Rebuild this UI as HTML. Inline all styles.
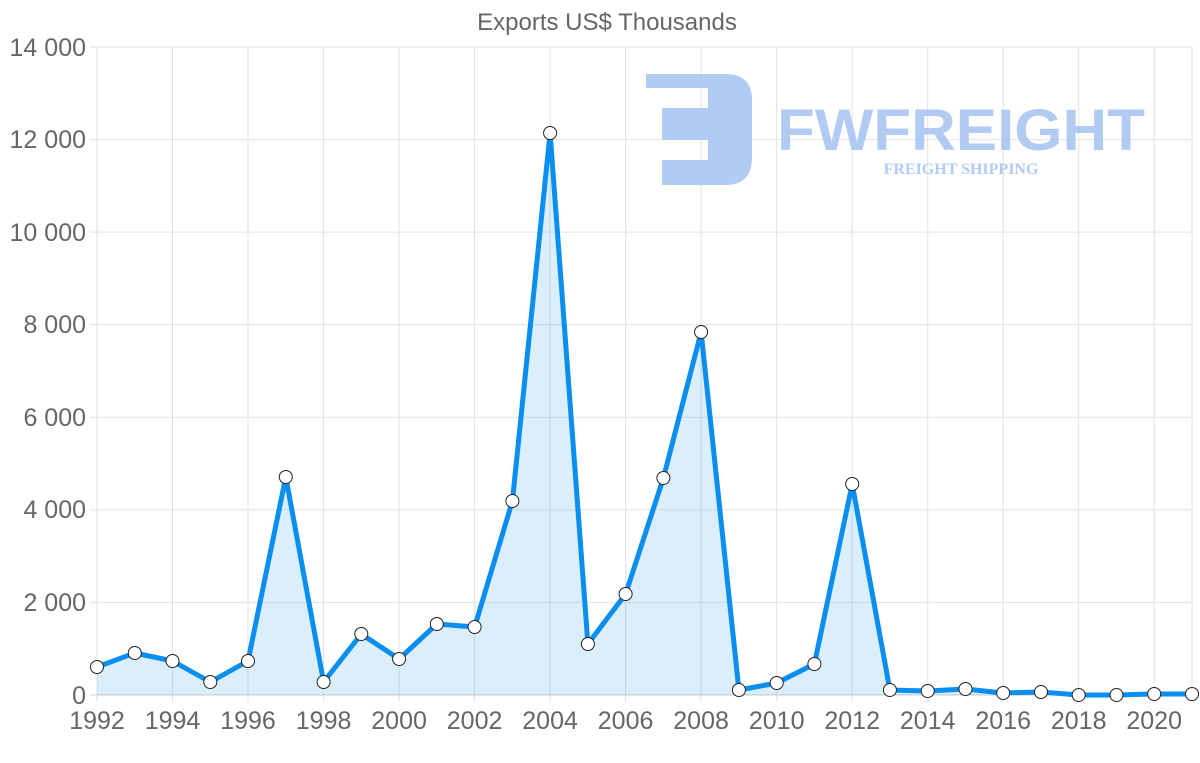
<!DOCTYPE html>
<html><head><meta charset="utf-8"><style>
html,body{margin:0;padding:0;background:#fff;}
svg{display:block;font-family:"Liberation Sans",sans-serif;}
</style></head><body>
<svg width="1200" height="763" viewBox="0 0 1200 763" xmlns="http://www.w3.org/2000/svg">
<text x="607" y="30" text-anchor="middle" font-size="24" fill="#666">Exports US$ Thousands</text>
<g stroke="#e2e2e2" stroke-width="1">
<line x1="90" y1="47" x2="1192" y2="47"/>
<line x1="90" y1="139.6" x2="1192" y2="139.6"/>
<line x1="90" y1="232.1" x2="1192" y2="232.1"/>
<line x1="90" y1="324.7" x2="1192" y2="324.7"/>
<line x1="90" y1="417.3" x2="1192" y2="417.3"/>
<line x1="90" y1="509.9" x2="1192" y2="509.9"/>
<line x1="90" y1="602.4" x2="1192" y2="602.4"/>
<line x1="97" y1="47" x2="97" y2="702"/>
<line x1="172.5" y1="47" x2="172.5" y2="702"/>
<line x1="248" y1="47" x2="248" y2="702"/>
<line x1="323.6" y1="47" x2="323.6" y2="702"/>
<line x1="399.1" y1="47" x2="399.1" y2="702"/>
<line x1="474.6" y1="47" x2="474.6" y2="702"/>
<line x1="550.1" y1="47" x2="550.1" y2="702"/>
<line x1="625.6" y1="47" x2="625.6" y2="702"/>
<line x1="701.1" y1="47" x2="701.1" y2="702"/>
<line x1="776.7" y1="47" x2="776.7" y2="702"/>
<line x1="852.2" y1="47" x2="852.2" y2="702"/>
<line x1="927.7" y1="47" x2="927.7" y2="702"/>
<line x1="1003.2" y1="47" x2="1003.2" y2="702"/>
<line x1="1078.7" y1="47" x2="1078.7" y2="702"/>
<line x1="1154.2" y1="47" x2="1154.2" y2="702"/>
<line x1="1192" y1="47" x2="1192" y2="695"/>
</g>
<line x1="90" y1="695" x2="1192" y2="695" stroke="#ccc"/>
<g fill="#666" font-size="25" text-anchor="end">
<text x="86" y="56">14 000</text><text x="86" y="148">12 000</text><text x="86" y="241">10 000</text>
<text x="86" y="333">8 000</text><text x="86" y="426">6 000</text><text x="86" y="518">4 000</text>
<text x="86" y="611">2 000</text><text x="86" y="704">0</text>
</g>
<g fill="#666" font-size="25" text-anchor="middle">
<text x="97" y="729">1992</text><text x="172.5" y="729">1994</text><text x="248" y="729">1996</text>
<text x="323.6" y="729">1998</text><text x="399.1" y="729">2000</text><text x="474.6" y="729">2002</text>
<text x="550.1" y="729">2004</text><text x="625.6" y="729">2006</text><text x="701.1" y="729">2008</text>
<text x="776.7" y="729">2010</text><text x="852.2" y="729">2012</text><text x="927.7" y="729">2014</text>
<text x="1003.2" y="729">2016</text><text x="1078.7" y="729">2018</text><text x="1154.2" y="729">2020</text>
</g>
<!-- logo -->
<g fill="#a9c6f2" opacity="0.9">
<path d="M646 74 H725 Q752 74 752 100 V158 Q752 185 725 185 H662 V160 H708 V140 H662 V108 H708 V88 H646 Z"/>
<text x="961" y="150" text-anchor="middle" font-size="58" font-weight="bold" textLength="368" lengthAdjust="spacingAndGlyphs">FWFREIGHT</text>
<text x="961" y="174" text-anchor="middle" font-size="16" font-weight="bold" font-family="Liberation Serif,serif">FREIGHT SHIPPING</text>
</g>
<polygon fill="rgba(54,162,235,0.18)" points="97,695 97,667 134.8,653 172.5,661 210.3,682 248,661 285.8,477 323.6,682 361.3,634 399.1,659 436.8,624 474.6,627 512.4,501 550.1,133 587.9,644 625.6,594 663.4,478 701.1,332 738.9,690 776.7,683 814.4,664 852.2,484 889.9,690 927.7,691 965.5,689 1003.2,693 1041,692 1078.7,695 1116.5,695 1154.2,694 1192,694 1192,695"/>
<polyline fill="none" stroke="#0a8ff0" stroke-width="5" stroke-linejoin="round" points="97,667 134.8,653 172.5,661 210.3,682 248,661 285.8,477 323.6,682 361.3,634 399.1,659 436.8,624 474.6,627 512.4,501 550.1,133 587.9,644 625.6,594 663.4,478 701.1,332 738.9,690 776.7,683 814.4,664 852.2,484 889.9,690 927.7,691 965.5,689 1003.2,693 1041,692 1078.7,695 1116.5,695 1154.2,694 1192,694"/>
<g fill="#fff" stroke="#222" stroke-width="1">
<circle cx="97" cy="667" r="6.5"/><circle cx="134.8" cy="653" r="6.5"/><circle cx="172.5" cy="661" r="6.5"/><circle cx="210.3" cy="682" r="6.5"/><circle cx="248" cy="661" r="6.5"/><circle cx="285.8" cy="477" r="6.5"/><circle cx="323.6" cy="682" r="6.5"/><circle cx="361.3" cy="634" r="6.5"/><circle cx="399.1" cy="659" r="6.5"/><circle cx="436.8" cy="624" r="6.5"/><circle cx="474.6" cy="627" r="6.5"/><circle cx="512.4" cy="501" r="6.5"/><circle cx="550.1" cy="133" r="6.5"/><circle cx="587.9" cy="644" r="6.5"/><circle cx="625.6" cy="594" r="6.5"/><circle cx="663.4" cy="478" r="6.5"/><circle cx="701.1" cy="332" r="6.5"/><circle cx="738.9" cy="690" r="6.5"/><circle cx="776.7" cy="683" r="6.5"/><circle cx="814.4" cy="664" r="6.5"/><circle cx="852.2" cy="484" r="6.5"/><circle cx="889.9" cy="690" r="6.5"/><circle cx="927.7" cy="691" r="6.5"/><circle cx="965.5" cy="689" r="6.5"/><circle cx="1003.2" cy="693" r="6.5"/><circle cx="1041" cy="692" r="6.5"/><circle cx="1078.7" cy="695" r="6.5"/><circle cx="1116.5" cy="695" r="6.5"/><circle cx="1154.2" cy="694" r="6.5"/><circle cx="1192" cy="694" r="6.5"/>
</g>
</svg>
</body></html>
